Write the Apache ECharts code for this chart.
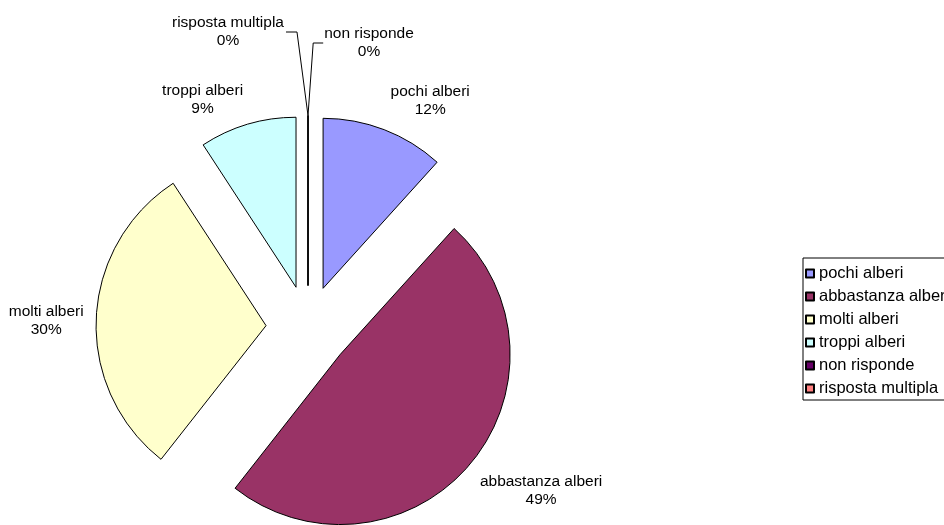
<!DOCTYPE html>
<html><head><meta charset="utf-8">
<script src="https://cdn.jsdelivr.net/npm/echarts@6/dist/echarts.min.js"></script>
<style>html,body{margin:0;padding:0;background:#fff}#c{width:944px;height:525px}</style>
</head><body><div id="c"></div>
<script>
const categories = ['pochi alberi', 'abbastanza alberi', 'molti alberi', 'troppi alberi', 'non risponde', 'risposta multipla'];
const values = [11.7, 48.9, 30.2, 9.2, 0, 0];
const palette = ['#9999FF', '#993366', '#FFFFCC', '#CCFFFF', '#660066', '#FF8080'];

// layout / style
const CX = 308, CY = 327.5, R = 170, OFF = 42;
const labelNudge = [[46, -29], [71, 27], [-50, 3], [-45, -25], [61, -72.5], [-80, -83.5]];
const FONT = 'Liberation Sans, Arial, sans-serif';
const LABEL_SIZE = 15.5, LABEL_LH = 18;

const total = values.reduce((a, b) => a + b, 0);
function geom(i) {
  let a0 = 0;
  for (let k = 0; k < i; k++) a0 += values[k] / total * 360;
  const mid = (a0 + values[i] / total * 180) * Math.PI / 180;
  const dx = Math.sin(mid), dy = -Math.cos(mid);
  return { px: CX + (OFF + R) * dx, py: CY + (OFF + R) * dy };
}

// measure text width for leader-line ends
const mctx = document.createElement('canvas').getContext('2d');
mctx.font = LABEL_SIZE + 'px ' + FONT;
function textW(s) { return mctx.measureText(s).width; }

const graphics = [];
categories.forEach((name, i) => {
  const g = geom(i);
  const n = labelNudge[i];
  const lx = g.px + n[0], ly = g.py + n[1];
  const pct = Math.round(values[i] / total * 100) + '%';
  graphics.push({
    type: 'text', x: lx, y: ly, z: 10, silent: true,
    style: {
      text: name + '\n' + pct, align: 'center', verticalAlign: 'middle',
      fontFamily: FONT, fontSize: LABEL_SIZE, lineHeight: LABEL_LH, fill: '#000'
    }
  });
  if (values[i] === 0) {
    const hw = Math.max(textW(name), textW(pct)) / 2;
    let end, elbow;
    if (n[0] < 0) { end = lx + hw + 2; elbow = end + 11; }
    else { end = lx - hw - 1; elbow = end - 10; }
    graphics.push({
      type: 'polyline', z: 10, silent: true,
      shape: { points: [[g.px, g.py], [elbow, ly], [end, ly]] },
      style: { stroke: '#000', lineWidth: 1, fill: null }
    });
  }
});

const chart = echarts.init(document.getElementById('c'), null, { renderer: 'canvas' });
chart.setOption({
  animation: false,
  backgroundColor: '#fff',
  color: palette,
  legend: {
    orient: 'vertical', left: 803, top: 258,
    padding: [7, 4, 3, 2], itemGap: 6, itemWidth: 8, itemHeight: 8,
    icon: 'rect', borderColor: '#000', borderWidth: 1, selectedMode: false,
    textStyle: { fontFamily: FONT, fontSize: 16.5, lineHeight: 16, color: '#000' },
    data: categories
  },
  graphic: graphics,
  series: [{
    type: 'pie', center: [CX, CY], radius: R, startAngle: 90, clockwise: true,
    selectedMode: 'multiple', selectedOffset: OFF, avoidLabelOverlap: false,
    itemStyle: { borderColor: '#000', borderWidth: 1 },
    select: { itemStyle: { borderColor: '#000', borderWidth: 1 } },
    emphasis: { disabled: true },
    label: { show: false },
    labelLine: { show: false },
    data: categories.map((name, i) => ({ name: name, value: values[i], selected: true }))
  }]
});
</script>
</body></html>
